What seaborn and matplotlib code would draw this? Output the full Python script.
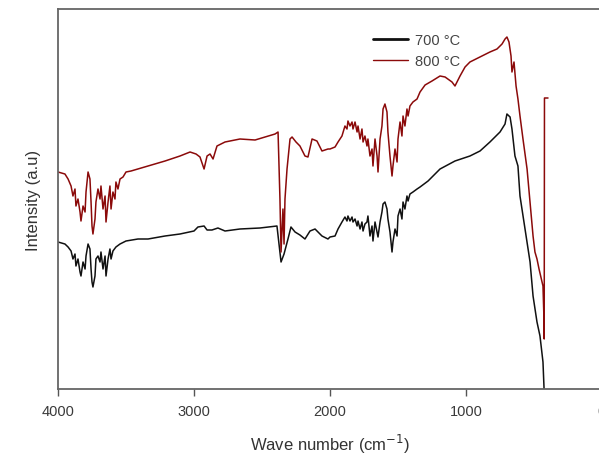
import numpy as np
import pandas as pd
import matplotlib
matplotlib.use("Agg")
import matplotlib.pyplot as plt
import seaborn as sns

# ---- data ----
wn_700 = [4000, 3949, 3926, 3904, 3890, 3875, 3868, 3853, 3838, 3831, 3816, 3801, 3794, 3779,
          3765, 3757, 3750, 3743, 3728, 3721, 3706, 3691, 3684, 3669, 3654, 3647, 3632, 3618,
          3610, 3596, 3574, 3544, 3500, 3412,
          3338, 3213, 3103, 3000, 2971, 2926, 2904, 2868, 2824, 2772, 2662, 2515, 2390, 2375,
          2360, 2346, 2338, 2309, 2287, 2257, 2221, 2184, 2147, 2110, 2059, 2015,
          2000, 1963, 1941, 1912, 1890, 1875, 1868, 1853, 1838, 1831, 1816, 1801, 1794, 1779,
          1765, 1757, 1743, 1728, 1721, 1706, 1691, 1684, 1669, 1654, 1647, 1632, 1618, 1610,
          1596, 1581, 1574, 1559, 1544, 1537, 1522, 1507, 1500, 1485, 1471, 1463, 1449, 1434,
          1426, 1412, 1390, 1360, 1338,
          1279, 1191, 1081, 971, 897, 824, 750, 713, 699, 676, 662, 640, 618, 603, 566, 529,
          507, 478, 456, 434, 426]
int_700 = [147, 145, 142, 138, 130, 135, 123, 130, 117, 113, 127, 120, 133, 145,
           140, 120, 107, 102, 113, 130, 133, 127, 137, 120, 133, 113, 130, 140,
           130, 138, 142, 145, 148, 150,
           150, 153, 155, 158, 162, 163, 159, 159, 161, 158, 160, 161, 163, 145,
           127, 132, 135, 150, 162, 157, 154, 150, 158, 160, 153, 150,
           152, 153, 160, 167, 172, 168, 173, 168, 172, 167, 170, 163, 168, 160,
           167, 158, 165, 167, 173, 153, 163, 148, 167, 157, 152, 167, 177, 185,
           187, 180, 170, 157, 137, 147, 160, 153, 173, 180, 170, 187, 180, 193,
           188, 195, 197, 200, 202,
           208, 220, 228, 233, 238, 247, 257, 265, 275, 272, 260, 233, 223, 193, 160, 127,
           93, 67, 53, 27, 0]

wn_800 = [4000, 3949, 3926, 3904, 3890, 3875, 3868, 3853, 3838, 3831, 3816, 3801, 3794, 3779,
          3765, 3757, 3750, 3743, 3728, 3721, 3706, 3691, 3684, 3669, 3654, 3647, 3632, 3618,
          3610, 3596, 3581, 3574, 3559, 3544, 3522, 3500, 3463, 3412,
          3338, 3213, 3103, 3029, 2985, 2956, 2926, 2904, 2882, 2860, 2831, 2772, 2662, 2551,
          2478, 2404, 2382, 2368, 2360, 2346, 2338, 2331, 2316, 2294, 2279, 2250, 2221, 2184,
          2162, 2132, 2096, 2059, 2015,
          2000, 1963, 1941, 1912, 1890, 1875, 1868, 1853, 1838, 1831, 1816, 1801, 1794, 1779,
          1765, 1757, 1743, 1728, 1721, 1706, 1691, 1684, 1669, 1654, 1647, 1632, 1618, 1610,
          1596, 1581, 1574, 1559, 1544, 1537, 1522, 1507, 1500, 1485, 1471, 1463, 1449, 1434,
          1426, 1412, 1390, 1360, 1338,
          1301, 1250, 1191, 1154, 1103, 1081, 1044, 1007, 971, 897, 824, 772, 735, 713, 699,
          684, 669, 662, 647, 632, 618, 603, 581, 551, 529, 507, 493, 478, 463, 449, 434,
          426, 425, 423, 397]
int_800 = [217, 215, 210, 203, 193, 200, 183, 190, 177, 168, 183, 177, 197, 217,
           210, 187, 163, 155, 170, 187, 200, 190, 203, 180, 193, 167, 187, 203,
           180, 197, 190, 207, 200, 210, 212, 217, 218, 220,
           223, 228, 233, 237, 235, 232, 220, 233, 235, 230, 243, 247, 250, 249,
           252, 255, 257, 190, 137, 180, 145, 190, 220, 250, 252, 247, 243, 233,
           232, 250, 248, 238, 240,
           240, 242, 247, 253, 263, 260, 268, 263, 267, 260, 267, 257, 263, 250,
           260, 247, 253, 243, 250, 233, 240, 223, 250, 233, 217, 250, 263, 280,
           285, 277, 257, 233, 213, 223, 240, 227, 250, 267, 253, 273, 263, 280,
           273, 283, 287, 290, 297,
           304, 308, 313, 312, 307, 303, 313, 322, 327, 332, 337, 340, 345, 350, 352,
           347, 333, 317, 327, 303, 290, 273, 250, 220, 187, 153, 137, 130, 120, 112, 103,
           67, 50, 291, 291]

labels = ["700 °C", "800 °C"]
colors = ["#111111", "#8B0A0A"]
xticks = [4000, 3000, 2000, 1000, 0]

df = pd.concat([
    pd.DataFrame({"wn": wn_700, "I": int_700, "series": labels[0]}),
    pd.DataFrame({"wn": wn_800, "I": int_800, "series": labels[1]}),
], ignore_index=True)

sns.set_style("white")
plt.rcParams["font.family"] = ["Liberation Sans", "DejaVu Sans"]

fig = plt.figure(figsize=(5.99, 4.56), dpi=100)
ax = fig.add_axes([58 / 599, 66 / 456, 544 / 599, 380 / 456])

sns.lineplot(data=df, x="wn", y="I", hue="series", palette=dict(zip(labels, colors)),
             sort=False, estimator=None, units="series", linewidth=1.1, ax=ax)

ax.set_xlim(4000, 0)
ax.set_ylim(0, 380)
ax.set_xticks(xticks)
ax.set_xticklabels([str(t) for t in xticks])
ax.set_yticks([])
ax.tick_params(axis="x", direction="out", length=5, width=1, colors="#555555",
               labelcolor="#3a3a3a", labelsize=10.5, pad=6, bottom=True)
for s in ["left", "bottom", "top", "right"]:
    ax.spines[s].set_color("#666666")
    ax.spines[s].set_linewidth(1.3)

ax.set_xlabel("Wave number (cm$^{-1}$)", fontsize=12, color="#333333", labelpad=10)
ax.set_ylabel("Intensity (a.u)", fontsize=12, color="#333333", labelpad=12)

leg = ax.legend(loc="upper left", bbox_to_anchor=(0.565, 0.955), frameon=False,
                fontsize=10.5, handlelength=2.4, handletextpad=0.5, labelspacing=0.45,
                borderpad=0)
for t in leg.get_texts():
    t.set_color("#444444")
leg.get_lines()[0].set_linewidth(2.0)
leg.get_lines()[1].set_linewidth(1.0)

fig.savefig("out.png", dpi=100)
